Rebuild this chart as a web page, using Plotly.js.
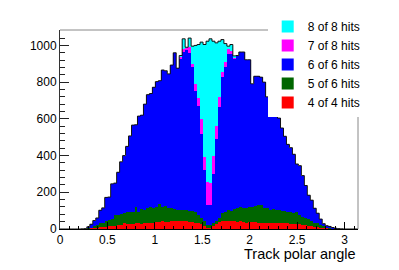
<!DOCTYPE html>
<html>
<head>
<meta charset="utf-8">
<script src="https://cdn.plot.ly/plotly-3.0.1.min.js"></script>
<style>html,body{margin:0;padding:0;background:#fff;}#chart{width:399px;height:270px;}</style>
</head>
<body>
<div id="chart"></div>
<script>
// Histogram binning: 100 bins over [0, pi]
const nBins = 100;
const xMin = 0;
const xMax = Math.PI;

// Series names (legend, top to bottom)
const seriesNames = ["4 of 4 hits", "5 of 6 hits", "6 of 6 hits", "7 of 8 hits", "8 of 8 hits"];

// Bin contents per series (stacked bottom to top: red, green, blue, magenta, cyan)
const red = [0,0,0,0,0,0,0,0,0,1, 3,5,7,9,10,12,14,16,18,20, 22,30,25,26,28,30,32,28,33,35,
  32,30,38,40,45,38,40,42,44,42, 46,45,44,40,38,35,30,25,15,6, 8,15,28,38,44,46,44,42,45,40,
  41,38,35,36,37,36,33,32,30,32, 31,34,33,35,32,30,31,28,29,27, 25,23,22,18,16,12,10,8,5,3,
  1,0,0,0,0,0,0,0,0,0];
const green = [0,0,0,0,0,0,0,0,1,2, 5,10,15,21,25,30,36,36,57,58, 60,56,65,69,62,88,63,80,71,78,
  86,83,80,96,77,87,75,71,66,62, 58,59,58,60,62,57,45,34,26,14, 14,17,17,21,42,49,60,58,63,73,
  77,75,78,86,81,89,97,98,83,81, 73,73,71,69,68,70,64,67,60,68, 52,45,38,35,25,23,22,15,9,5,
  3,2,1,0,0,0,0,0,0,0];
const blue = [0,0,0,0,0,0,0,1,1,9, 18,31,38,72,80,130,124,194,175,231, 284,314,360,412,476,450,520,512,576,619,
  620,659,685,672,744,737,730,780,850,772, 821,861,873,860,780,658,593,461,279,110, 108,268,443,607,741,785,848,852,817,832,
  846,851,809,800,673,707,702,697,687,607, 553,559,553,500,450,405,366,348,318,259, 268,223,177,131,116,78,54,31,15,10,
  10,6,3,2,1,0,0,0,0,0];
const magenta = [0,0,0,0,0,0,0,0,0,0, 0,0,0,0,0,0,0,0,0,0, 0,0,0,0,0,0,0,0,0,0,
  0,0,0,0,0,0,0,0,0,0, 10,17,10,30,20,41,43,80,70,125, 120,98,71,54,27,31,27,18,7,0,
  0,0,0,0,0,0,0,0,0,0, 0,0,0,0,0,0,0,0,0,0, 0,0,0,0,0,0,0,0,0,0,
  0,0,0,0,0,0,0,0,0,0];
const cyan = [0,0,0,0,0,0,0,0,0,0, 0,0,0,0,0,0,0,0,0,0, 0,0,0,0,0,0,0,0,0,0,
  0,0,0,0,0,0,0,0,0,0, 10,54,5,50,96,209,294,418,615,768, 786,625,455,303,178,99,17,35,11,0,
  0,0,0,0,0,0,0,0,0,0, 0,0,0,0,0,0,0,0,0,0, 0,0,0,0,0,0,0,0,0,0,
  0,0,0,0,0,0,0,0,0,0];

const seriesValues = [red, green, blue, magenta, cyan];
const seriesColors = ["#ff0000", "#006600", "#0000ff", "#ff00ff", "#00ffff"];

const xTickVals = [0, 0.5, 1, 1.5, 2, 2.5, 3];
const xTickText = ["0", "0.5", "1", "1.5", "2", "2.5", "3"];
const yTickVals = [0, 200, 400, 600, 800, 1000];
const yTickText = ["0", "200", "400", "600", "800", "1000"];
const xTitle = "Track polar angle";

// Derived geometry
const binW = (xMax - xMin) / nBins;
const centers = Array.from({length: nBins}, (_, i) => xMin + (i + 0.5) * binW);
const edges = Array.from({length: nBins + 1}, (_, i) => xMin + i * binW);
const totals = centers.map((_, i) => seriesValues.reduce((s, arr) => s + arr[i], 0));
const outlineY = totals.concat([totals[nBins - 1]]);

const traces = seriesValues.map((vals, k) => ({
  type: "bar",
  x: centers,
  y: vals,
  width: binW,
  name: seriesNames[k],
  marker: {color: seriesColors[k], line: {width: 0}},
  hoverinfo: "skip"
}));
traces.push({
  type: "scatter",
  mode: "lines",
  x: edges,
  y: outlineY,
  line: {shape: "hv", color: "#111", width: 1},
  showlegend: false,
  hoverinfo: "skip"
});

const font = {family: "Liberation Sans, Arial, sans-serif", color: "#000", size: 12};

const layout = {
  width: 399, height: 270,
  margin: {l: 60, r: 41, t: 27, b: 41, pad: 0},
  paper_bgcolor: "#fff", plot_bgcolor: "#fff",
  font: font,
  barmode: "stack", bargap: 0,
  showlegend: true,
  legend: {
    x: 0.697, y: 1.09, xanchor: "left", yanchor: "top",
    bgcolor: "#fff", borderwidth: 0,
    traceorder: "reversed",
    font: {family: font.family, size: 12, color: "#000"}
  },
  xaxis: {
    range: [xMin, xMax], tickvals: xTickVals, ticktext: xTickText,
    ticks: "inside", ticklen: 7, tickcolor: "#000", tickwidth: 1,
    minor: {ticks: "inside", ticklen: 3.5, dtick: 0.1, tick0: 0, tickcolor: "#000"},
    showline: true, linecolor: "#000", linewidth: 1, mirror: false,
    showgrid: false, zeroline: false,
    tickfont: {size: 12}
  },
  yaxis: {
    range: [0, 1084], tickvals: yTickVals, ticktext: yTickText,
    ticks: "inside", ticklen: 9, tickcolor: "#222", tickwidth: 1,
    minor: {ticks: "inside", ticklen: 4.5, dtick: 40, tick0: 0, tickcolor: "#222"},
    showline: true, linecolor: "#333", linewidth: 1, mirror: false,
    showgrid: false, zeroline: false,
    tickfont: {size: 12}
  },
  shapes: [
    {type: "line", xref: "paper", yref: "paper", x0: 0, x1: 1, y0: 1, y1: 1,
     line: {color: "#888", width: 1}},
    {type: "line", xref: "paper", yref: "paper", x0: 1, x1: 1, y0: 0, y1: 1,
     line: {color: "#888", width: 1}}
  ],
  annotations: [{
    text: xTitle, xref: "paper", yref: "paper",
    x: 1, y: -0.125, xanchor: "right", yanchor: "middle",
    showarrow: false, font: {size: 14.5, family: font.family, color: "#000"}
  }]
};

Plotly.newPlot("chart", traces, layout, {staticPlot: true, displayModeBar: false});
</script>
</body>
</html>
